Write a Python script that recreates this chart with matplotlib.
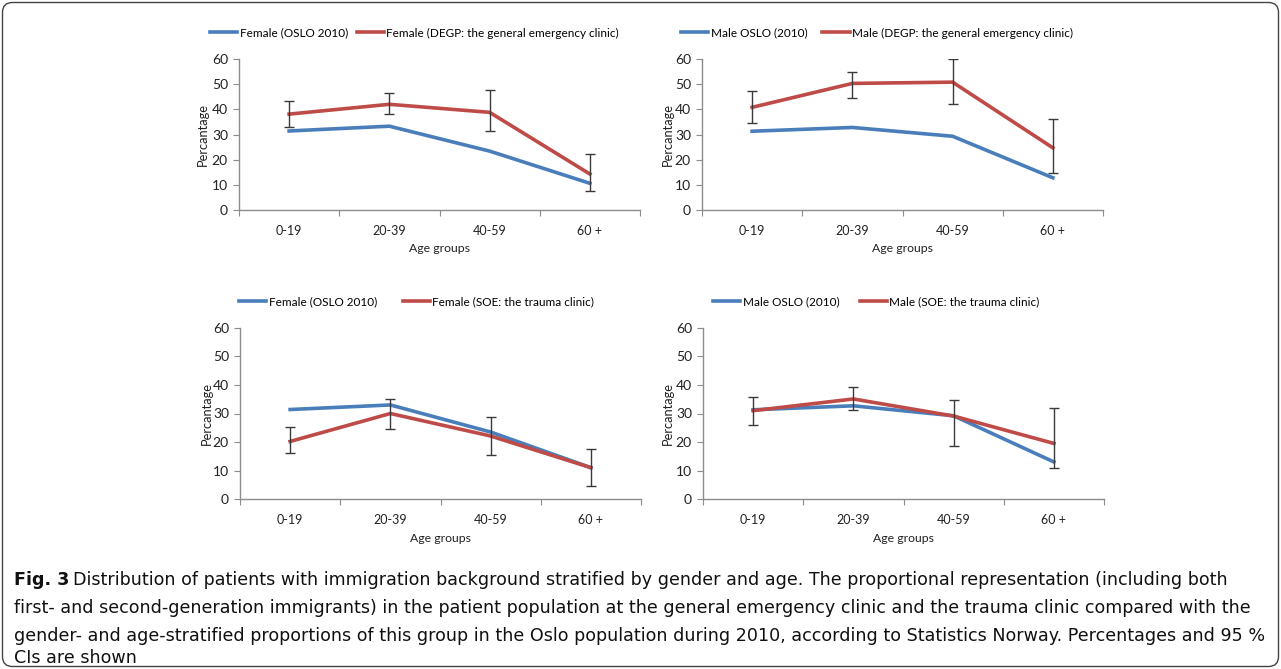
import matplotlib
matplotlib.use("Agg")
import matplotlib.pyplot as plt
import numpy as np
from matplotlib.patches import FancyBboxPatch
from matplotlib.transforms import IdentityTransform

# ---------------- data ----------------
age_groups = ["0-19", "20-39", "40-59", "60 +"]

female_oslo = [31.4, 33.3, 23.4, 10.6]
female_degp = [38.1, 42.0, 38.8, 14.3]
female_degp_lo = [32.8, 38.0, 31.4, 7.7]
female_degp_hi = [43.4, 46.4, 47.5, 22.2]

male_oslo = [31.3, 32.8, 29.3, 12.8]
male_degp = [40.8, 50.3, 50.8, 24.7]
male_degp_lo = [34.4, 44.7, 42.0, 14.7]
male_degp_hi = [47.3, 55.0, 59.9, 36.3]

female_oslo_b = [31.4, 33.0, 23.5, 11.0]
female_soe = [20.2, 30.0, 22.1, 11.0]
female_soe_lo = [16.1, 24.4, 15.4, 4.6]
female_soe_hi = [25.4, 35.1, 28.9, 17.7]

male_oslo_b = [31.3, 32.7, 29.2, 13.0]
male_soe = [31.0, 35.1, 29.1, 19.5]
male_soe_lo = [26.1, 31.2, 18.6, 11.0]
male_soe_hi = [35.9, 39.3, 34.8, 32.0]

legend_labels = [
    ("Female (OSLO 2010)", "Female (DEGP: the general emergency clinic)"),
    ("Male OSLO (2010)", "Male (DEGP: the general emergency clinic)"),
    ("Female (OSLO 2010)", "Female (SOE: the trauma clinic)"),
    ("Male OSLO (2010)", "Male (SOE: the trauma clinic)"),
]

caption_bold = "Fig. 3"
caption_lines = [
    "Distribution of patients with immigration background stratified by gender and age. The proportional representation (including both",
    "first- and second-generation immigrants) in the patient population at the general emergency clinic and the trauma clinic compared with the",
    "gender- and age-stratified proportions of this group in the Oslo population during 2010, according to Statistics Norway. Percentages and 95 %",
    "CIs are shown",
]

# ---------------- style ----------------
W, H = 1281, 669
BLUE = "#4A7EBB"
RED = "#BE4B48"
AX_COL = "#8C8C8C"
FONT = "Lato"

fig = plt.figure(figsize=(W / 100, H / 100), dpi=100)

def px_axes(left, right, top, bottom):
    return fig.add_axes([left / W, 1 - bottom / H, (right - left) / W, (bottom - top) / H])

panels = [
    dict(box=(239, 640, 59, 210), base=female_oslo, clinic=female_degp, lo=female_degp_lo, hi=female_degp_hi,
         leg=(210, 33), colsp=0.75, ylab_x=203),
    dict(box=(702, 1103, 59, 210), base=male_oslo, clinic=male_degp, lo=male_degp_lo, hi=male_degp_hi,
         leg=(681, 33), colsp=1.3, ylab_x=668),
    dict(box=(240, 641, 328, 499), base=female_oslo_b, clinic=female_soe, lo=female_soe_lo, hi=female_soe_hi,
         leg=(239, 302), colsp=2.2, ylab_x=207),
    dict(box=(703, 1104, 328, 499), base=male_oslo_b, clinic=male_soe, lo=male_soe_lo, hi=male_soe_hi,
         leg=(713, 302), colsp=1.75, ylab_x=668),
]

x = np.arange(len(age_groups))
for i, p in enumerate(panels):
    l, r, t, b = p["box"]
    ax = px_axes(l, r, t, b)
    clinic = np.array(p["clinic"])
    yerr = np.vstack([clinic - np.array(p["lo"]), np.array(p["hi"]) - clinic])
    h1, = ax.plot(x, p["base"], color=BLUE, lw=2.6, solid_joinstyle="miter", zorder=2)
    h2, = ax.plot(x, clinic, color=RED, lw=2.6, solid_joinstyle="miter", zorder=3)
    ax.errorbar(x, clinic, yerr=yerr, fmt="none", ecolor="#3a3a3a", elinewidth=1.0,
                capsize=3.5, capthick=1.0, zorder=4)
    ax.set_xlim(-0.5, len(age_groups) - 0.5)
    ax.set_ylim(0, 60)
    ax.set_yticks(np.arange(0, 61, 10))
    ax.set_xticks(np.arange(-0.5, len(age_groups), 1.0))
    ax.set_xticklabels([])
    ax.set_xticks(x, minor=True)
    ax.set_xticklabels(age_groups, minor=True, fontfamily=FONT, fontsize=9.0, color="#222222")
    ax.tick_params(axis="x", which="minor", length=0, pad=11)
    ax.tick_params(axis="x", which="major", length=4, color=AX_COL, direction="out")
    ax.tick_params(axis="y", length=4, color=AX_COL, direction="out", pad=4,
                   labelsize=10.0, labelcolor="#222222")
    for lab in ax.get_yticklabels():
        lab.set_fontfamily(FONT)
    for s in ["top", "right"]:
        ax.spines[s].set_visible(False)
    for s in ["left", "bottom"]:
        ax.spines[s].set_color(AX_COL)
        ax.spines[s].set_linewidth(1.0)
    ax.patch.set_visible(False)
    # axis titles
    yc = (t + b) / 2
    fig.text(p["ylab_x"] / W, 1 - yc / H, "Percantage", rotation=90, ha="center", va="center",
             fontfamily=FONT, fontsize=9.3, color="#222222")
    fig.text(((l + r) / 2) / W, 1 - (b + 39) / H, "Age groups", ha="center", va="center",
             fontfamily=FONT, fontsize=8.8, color="#222222")
    # legend
    lx, ly = p["leg"]
    fig.legend([h1, h2], list(legend_labels[i]), loc="center left",
               bbox_to_anchor=(lx / W, 1 - ly / H), bbox_transform=fig.transFigure,
               ncol=2, frameon=False, handlelength=2.3, handletextpad=0.2,
               columnspacing=p["colsp"], borderpad=0, borderaxespad=0,
               prop=dict(family=FONT, size=8.5))

# ---------------- caption ----------------
cap_font = ["DejaVu Sans"]
cap_size = 12.6
line_y = [580, 608, 636, 658]
renderer = fig.canvas.get_renderer()
tb = fig.text(14 / W, 1 - line_y[0] / H, caption_bold, fontweight="bold", fontfamily=cap_font,
              fontsize=cap_size, va="center", ha="left", color="#111111")
bb = tb.get_window_extent(renderer=renderer)
x0 = bb.x1 + 4
for k, line in enumerate(caption_lines):
    xs = x0 if k == 0 else 14
    fig.text(xs / W, 1 - line_y[k] / H, line, fontfamily=cap_font, fontsize=cap_size,
             va="center", ha="left", color="#111111")

# ---------------- border ----------------
border = FancyBboxPatch((2.5, 2.5), W - 5, H - 5, boxstyle="round,pad=0,rounding_size=10",
                        transform=IdentityTransform(), fill=False, edgecolor="#444444",
                        linewidth=1.0)
fig.patches.append(border)

fig.savefig("out.png", dpi=100)
